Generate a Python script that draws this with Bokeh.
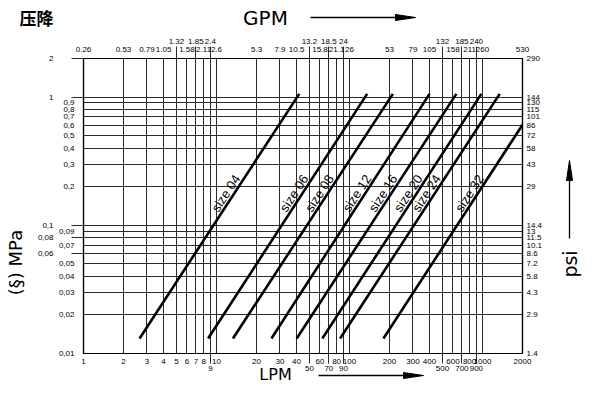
import math
from bokeh.plotting import figure
from bokeh.models import LogAxis, FixedTicker, Range1d
from bokeh.core.properties import value
from bokeh.embed import file_html
from bokeh.resources import INLINE

# ---------------- data ----------------
lpm_ticks = [1, 2, 3, 4, 5, 6, 7, 8, 9, 10, 20, 30, 40, 50, 60, 70, 80, 90, 100,
             200, 300, 400, 500, 600, 700, 800, 900, 1000, 2000]
lpm_lowered = [9, 50, 70, 90, 500, 700, 900]
gpm_labels = ["0.26", "0.53", "0.79", "1.05", "1.32", "1.58", "1.85", "2.11", "2.4", "2.6",
              "5.3", "7.9", "10.5", "13.2", "15.8", "18.5", "21.1", "24", "26",
              "53", "79", "105", "132", "158", "185", "211", "240", "260", "530"]
gpm_raised = [5, 7, 9, 50, 70, 90, 500, 700, 900]
mpa_ticks = [2, 1, 0.9, 0.8, 0.7, 0.6, 0.5, 0.4, 0.3, 0.2,
             0.1, 0.09, 0.08, 0.07, 0.06, 0.05, 0.04, 0.03, 0.02, 0.01]
mpa_labels = ["2", "1", "0,9", "0,8", "0,7", "0,6", "0,5", "0,4", "0,3", "0,2",
              "0,1", "0,09", "0,08", "0,07", "0,06", "0,05", "0,04", "0,03", "0,02", "0,01"]
mpa_far = [2, 1, 0.1, 0.08, 0.06]
psi_labels = ["290", "144", "130", "115", "101", "86", "72", "58", "43", "29",
              "14.4", "13", "11.5", "10.1", "8.6", "7.2", "5.8", "4.3", "2.9", "1.4"]

size_names = ["size 04", "size 06", "size 08", "size 12", "size 16", "size 20", "size 24", "size 32"]
lpm_start = [2.64, 8.65, 13.3, 25.9, 40.1, 62.5, 85.0, 180.0]
lpm_end = [41.9, 135.8, 212.0, 400.0, 636.0, 981.0, 1348.0, 2000.0]
mpa_start = [0.0131, 0.0131, 0.0131, 0.0131, 0.0131, 0.0131, 0.0131, 0.0131]
mpa_end = [1.06, 1.06, 1.06, 1.06, 1.06, 1.06, 1.06, 0.608]

# ---------------- layout / style ----------------
LABEL_MPA = 0.178
TICK_FONT = "Liberation Sans"
TICK_SIZE = "8px"
GRID_COLOR = "#2a2a2a"
FRAME_L, FRAME_T, FRAME_R, FRAME_B = 83, 58, 522, 353

p = figure(width=584, height=384, x_axis_type="log", y_axis_type="log",
           x_range=Range1d(1, 2000), y_range=Range1d(0.01, 2),
           min_border_left=FRAME_L, min_border_right=584 - FRAME_R,
           min_border_top=FRAME_T, min_border_bottom=384 - FRAME_B,
           output_backend="svg", toolbar_location=None, title_location=None)
p.outline_line_color = "black"
p.outline_line_width = 1.2
p.background_fill_color = "white"
p.border_fill_color = "white"

p.xgrid.ticker = FixedTicker(ticks=lpm_ticks)
p.ygrid.ticker = FixedTicker(ticks=mpa_ticks)
for g in (p.xgrid[0], p.ygrid[0]):
    g.grid_line_color = GRID_COLOR
    g.grid_line_width = 1
    g.grid_line_alpha = 1


def style_axis(ax, standoff):
    ax.major_label_text_font = TICK_FONT
    ax.major_label_text_font_size = TICK_SIZE
    ax.major_label_text_color = "black"
    ax.major_label_text_line_height = 0.8
    ax.major_label_standoff = standoff
    ax.major_tick_in = 0
    ax.major_tick_out = 0
    ax.minor_tick_in = 0
    ax.minor_tick_line_color = GRID_COLOR
    ax.axis_line_color = "black"
    ax.axis_line_width = 1.2


# bottom LPM axis
bx = p.below[0]
bx.ticker = FixedTicker(ticks=lpm_ticks, minor_ticks=lpm_lowered)
bx.major_label_overrides = {t: ("\n" + str(t) if t in lpm_lowered else str(t)) for t in lpm_ticks}
bx.minor_tick_out = 10
style_axis(bx, -7)

# top GPM axis
tx = LogAxis(ticker=FixedTicker(ticks=lpm_ticks, minor_ticks=gpm_raised))
tx.major_label_overrides = {t: (lab + "\n" if t in gpm_raised else lab)
                            for t, lab in zip(lpm_ticks, gpm_labels)}
tx.minor_tick_out = 12
style_axis(tx, -7)
p.add_layout(tx, "above")

# left MPa axis (inner labels)
ly = p.left[0]
ly.ticker = FixedTicker(ticks=mpa_ticks, minor_ticks=mpa_far)
ly.major_label_overrides = {t: ("" if t in mpa_far else lab) for t, lab in zip(mpa_ticks, mpa_labels)}
ly.minor_tick_out = 12
style_axis(ly, -3)

# left MPa axis (outer labels)
ly2 = LogAxis(ticker=FixedTicker(ticks=mpa_far))
ly2.major_label_overrides = {t: lab for t, lab in zip(mpa_ticks, mpa_labels) if t in mpa_far}
style_axis(ly2, 2)
ly2.axis_line_color = None
p.add_layout(ly2, "left")

# right psi axis
ry = LogAxis(ticker=FixedTicker(ticks=mpa_ticks))
ry.major_label_overrides = {t: lab for t, lab in zip(mpa_ticks, psi_labels)}
style_axis(ry, 4)
p.add_layout(ry, "right")

# size lines
p.segment(x0=lpm_start, y0=mpa_start, x1=lpm_end, y1=mpa_end, line_color="black", line_width=2.6)

# size labels, placed on each line at LABEL_MPA
lab_x = []
for x0, y0, x1, y1 in zip(lpm_start, mpa_start, lpm_end, mpa_end):
    t = (math.log10(LABEL_MPA) - math.log10(y0)) / (math.log10(y1) - math.log10(y0))
    lab_x.append(10 ** (math.log10(x0) + t * (math.log10(x1) - math.log10(x0))))
p.text(x=lab_x, y=[LABEL_MPA] * len(lab_x), text=size_names, angle=math.radians(57),
       text_align="center", text_baseline="middle", x_offset=-8.5,
       text_font=value("Liberation Sans"), text_font_size="13px", text_color="black")


# ---------------- titles and arrows outside the frame ----------------
def txt(x, y, s, dx, dy, size, font="DejaVu Sans", style="normal", angle=0.0):
    p.text(x=[x], y=[y], text=[s], x_offset=dx, y_offset=dy, angle=angle,
           text_align="center", text_baseline="middle", text_font=value(font),
           text_font_size=size, text_font_style=style, text_color="black", level="overlay")


txt(1, 2, "压降", -47, -41, "17px", font="Noto Sans CJK SC", style="bold")
txt(1, 2, "GPM", 182, -41, "20px")
txt(1, 0.01, "LPM", 192, 21, "16px")
txt(1, 0.01, "(§) MPa", -68, -91, "18px", angle=math.pi / 2)
txt(2000, 0.01, "psi", 47, -89.5, "19px", angle=math.pi / 2)

DEC_X = (FRAME_R - FRAME_L) / math.log10(2000 / 1)
DEC_Y = (FRAME_B - FRAME_T) / math.log10(2 / 0.01)


def lpm_at(px):
    return 10 ** ((px - FRAME_L) / DEC_X)


def mpa_at(py):
    return 10 ** (-2 + (FRAME_B - py) / DEC_Y)


arrows = [((310, 17), (415, 17)), ((318, 375), (423, 375)), ((569, 238), (569, 160))]
for (ax0, ay0), (ax1, ay1) in arrows:
    L = math.hypot(ax1 - ax0, ay1 - ay0)
    ux, uy = (ax1 - ax0) / L, (ay1 - ay0) / L
    bxp, byp = ax1 - 20 * ux, ay1 - 20 * uy
    nx, ny = -uy * 3, ux * 3
    p.segment(x0=[lpm_at(ax0)], y0=[mpa_at(ay0)], x1=[lpm_at(bxp)], y1=[mpa_at(byp)],
              line_color="black", line_width=1.3, level="overlay")
    p.patch(x=[lpm_at(bxp + nx), lpm_at(ax1), lpm_at(bxp - nx)],
            y=[mpa_at(byp + ny), mpa_at(ay1), mpa_at(byp - ny)],
            fill_color="black", line_color="black", level="overlay")

open("out.html", "w").write(file_html(p, INLINE))
